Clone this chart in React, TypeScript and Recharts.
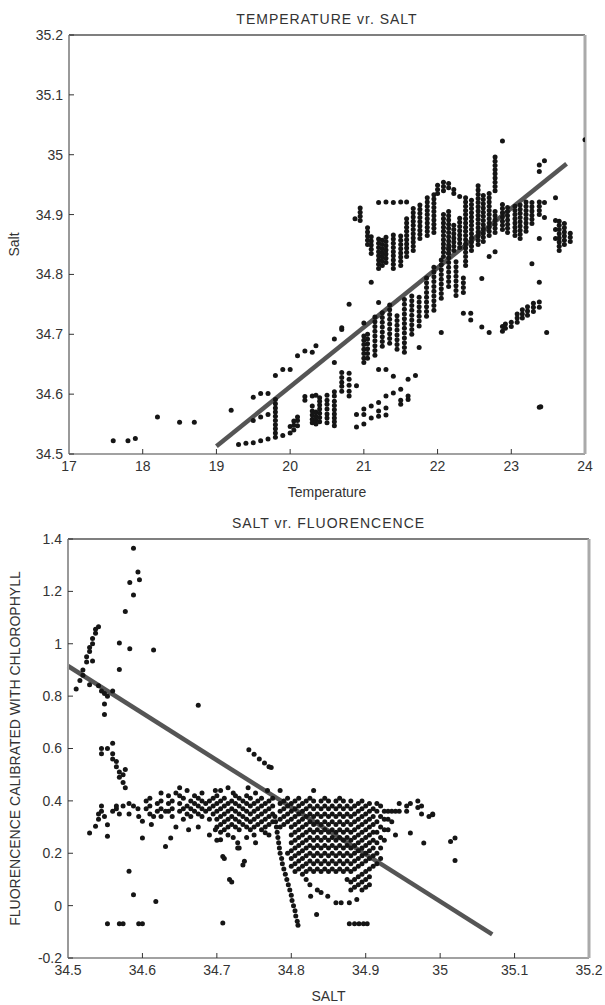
import React from 'react';
import { ScatterChart, Scatter, XAxis, YAxis, ReferenceLine, Label } from 'recharts';

// ---------- Chart 1: TEMPERATURE vr. SALT ----------
const tempTicks = [17, 18, 19, 20, 21, 22, 23, 24];
const saltTicksTop = [34.5, 34.6, 34.7, 34.8, 34.9, 35.0, 35.1, 35.2];

// [temperature, salt values observed at that temperature]
const tempSaltColumns: [number, number[]][] = [
  [17.6, [34.522]], [17.8, [34.522]], [17.9, [34.526]], [18.2, [34.562]], [18.5, [34.553]], [18.7, [34.553]],
  [19.2, [34.573]], [19.3, [34.516]], [19.4, [34.518]],
  [19.5, [34.519, 34.556, 34.595]], [19.6, [34.522, 34.562, 34.601]], [19.7, [34.525, 34.566, 34.601]],
  [19.8, [34.528, 34.535, 34.542, 34.549, 34.556, 34.563, 34.57, 34.577, 34.584, 34.591, 34.631]],
  [19.9, [34.531, 34.641]], [20.0, [34.535, 34.546, 34.641]], [20.05, [34.54, 34.548, 34.555]],
  [20.1, [34.547, 34.556, 34.562, 34.664]], [20.2, [34.596, 34.59, 34.672]],
  [20.3, [34.552, 34.558, 34.565, 34.572, 34.58, 34.597, 34.67]],
  [20.35, [34.55, 34.557, 34.563, 34.57, 34.598, 34.681]],
  [20.4, [34.554, 34.561, 34.568, 34.575, 34.582, 34.588, 34.594]],
  [20.5, [34.552, 34.56, 34.567, 34.575, 34.583, 34.59, 34.598]],
  [20.6, [34.547, 34.554, 34.56, 34.567, 34.574, 34.581, 34.588, 34.597, 34.604, 34.653, 34.692]],
  [20.7, [34.605, 34.613, 34.62, 34.628, 34.636, 34.708, 34.711]],
  [20.8, [34.597, 34.605, 34.615, 34.625, 34.635, 34.75]],
  [20.9, [34.545, 34.566, 34.614]],
  [21.0, [34.55, 34.566, 34.575, 34.653, 34.66, 34.668, 34.675, 34.683, 34.69, 34.697, 34.719]],
  [21.1, [34.56, 34.58, 34.787]], [21.2, [34.563, 34.572, 34.586, 34.641, 34.753]],
  [21.3, [34.565, 34.577, 34.597, 34.641]], [21.4, [34.63, 34.602]], [21.5, [34.583, 34.59, 34.608]],
  [21.6, [34.591, 34.597, 34.625]], [21.7, [34.631]], [23.4, [34.579]],
  // diagonal band
  [21.05, [34.66, 34.668, 34.676, 34.684, 34.692, 34.7]],
  [21.15, [34.665, 34.673, 34.681, 34.689, 34.697, 34.705, 34.713, 34.721, 34.729]],
  [21.25, [34.68, 34.688, 34.696, 34.704, 34.712, 34.72, 34.728, 34.736]],
  [21.35, [34.685, 34.693, 34.701, 34.709, 34.717, 34.725, 34.733, 34.741, 34.749]],
  [21.45, [34.675, 34.683, 34.691, 34.699, 34.707, 34.715, 34.723, 34.731]],
  [21.55, [34.67, 34.678, 34.686, 34.694, 34.702, 34.71, 34.718, 34.726, 34.734, 34.742, 34.75, 34.758]],
  [21.65, [34.7, 34.708, 34.716, 34.724, 34.732, 34.74, 34.748, 34.756, 34.764]],
  [21.75, [34.678, 34.714, 34.722, 34.73, 34.738, 34.746, 34.754, 34.762]],
  [21.85, [34.73, 34.738, 34.746, 34.754, 34.762, 34.77, 34.778, 34.786, 34.794]],
  [21.95, [34.74, 34.748, 34.756, 34.764, 34.772, 34.78, 34.788, 34.796, 34.804, 34.812]],
  [22.05, [34.703, 34.76, 34.768, 34.776, 34.784, 34.792, 34.8, 34.808, 34.816, 34.824]],
  [22.15, [34.78, 34.788, 34.796, 34.804, 34.812, 34.82, 34.828, 34.836, 34.844]],
  [22.25, [34.765, 34.773, 34.781, 34.789, 34.797, 34.805, 34.813, 34.821]],
  [22.35, [34.735, 34.77, 34.778, 34.786, 34.794]],
  [22.45, [34.735, 34.724]], [22.6, [34.793, 34.712]], [22.7, [34.703]],
  // upper cluster
  [20.88, [34.893]], [20.95, [34.89, 34.897, 34.904, 34.911]],
  [21.05, [34.85, 34.857, 34.864, 34.871, 34.878]],
  [21.1, [34.835, 34.842, 34.849, 34.856, 34.863]],
  [21.2, [34.81, 34.817, 34.824, 34.831, 34.838, 34.845, 34.852, 34.859, 34.92]],
  [21.25, [34.815, 34.822, 34.829, 34.836, 34.843, 34.85, 34.857]],
  [21.3, [34.82, 34.827, 34.834, 34.841, 34.848, 34.855, 34.862, 34.921]],
  [21.4, [34.81, 34.817, 34.824, 34.831, 34.838, 34.845, 34.852, 34.859, 34.866, 34.92]],
  [21.5, [34.815, 34.822, 34.829, 34.836, 34.843, 34.85, 34.857, 34.864, 34.921]],
  [21.58, [34.83, 34.837, 34.844, 34.851, 34.858, 34.865, 34.872, 34.879, 34.886, 34.893, 34.921]],
  [21.67, [34.84, 34.847, 34.854, 34.861, 34.868, 34.875, 34.882, 34.889, 34.896, 34.903, 34.91]],
  [21.76, [34.86, 34.867, 34.874, 34.881, 34.888, 34.895, 34.902, 34.909, 34.916]],
  [21.86, [34.865, 34.872, 34.879, 34.886, 34.893, 34.9, 34.907, 34.914, 34.921, 34.928]],
  [21.95, [34.87, 34.877, 34.884, 34.891, 34.898, 34.905, 34.912, 34.919, 34.926, 34.933]],
  [22.0, [34.935, 34.942, 34.949]],
  [22.08, [34.83, 34.837, 34.844, 34.851, 34.858, 34.865, 34.872, 34.879, 34.886, 34.893, 34.9, 34.94, 34.947, 34.954]],
  [22.15, [34.835, 34.842, 34.849, 34.856, 34.863, 34.87, 34.877, 34.884, 34.891, 34.898, 34.905, 34.945, 34.952]],
  [22.22, [34.84, 34.847, 34.854, 34.861, 34.868, 34.875, 34.882, 34.935, 34.942]],
  [22.3, [34.845, 34.852, 34.859, 34.866, 34.873, 34.88, 34.887, 34.894, 34.93]],
  [22.38, [34.815, 34.822, 34.83, 34.837, 34.844, 34.851, 34.858, 34.865, 34.872, 34.879, 34.886, 34.893, 34.9, 34.907, 34.914, 34.921, 34.928]],
  [22.46, [34.84, 34.847, 34.854, 34.861, 34.868, 34.875, 34.882, 34.889, 34.896, 34.903, 34.91, 34.917, 34.924]],
  [22.55, [34.85, 34.857, 34.864, 34.871, 34.878, 34.885, 34.892, 34.899, 34.906, 34.913, 34.92, 34.927, 34.934, 34.941, 34.948]],
  [22.62, [34.855, 34.862, 34.869, 34.876, 34.883, 34.89, 34.897, 34.904, 34.911, 34.918, 34.925, 34.932]],
  [22.7, [34.83, 34.865, 34.872, 34.879, 34.886, 34.893, 34.9, 34.907, 34.914, 34.921, 34.928, 34.935]],
  [22.78, [34.838, 34.87, 34.877, 34.884, 34.891, 34.898, 34.905, 34.94, 34.947, 34.954, 34.961, 34.968, 34.975, 34.982, 34.989, 34.996]],
  [22.88, [34.875, 34.882, 34.889, 34.896, 34.903, 34.91, 34.917, 35.023]],
  [22.95, [34.87, 34.877, 34.884, 34.891, 34.898, 34.905, 34.912]],
  [23.05, [34.865, 34.872, 34.879, 34.886, 34.893, 34.9, 34.907, 34.914]],
  [23.12, [34.86, 34.867, 34.874, 34.881, 34.888, 34.895, 34.902, 34.909, 34.916]],
  [23.2, [34.872, 34.879, 34.886, 34.893, 34.9, 34.907, 34.914, 34.921]],
  [23.28, [34.818, 34.885, 34.892, 34.899, 34.906, 34.913, 34.92]],
  [23.38, [34.787, 34.86, 34.9, 34.907, 34.914, 34.921, 34.972, 34.983]],
  [23.45, [34.895, 34.92, 34.99]], [23.6, [34.86, 34.875, 34.89, 34.928]],
  [23.65, [34.84, 34.847, 34.854, 34.861, 34.868, 34.875, 34.882, 34.889]],
  [23.72, [34.85, 34.857, 34.864, 34.871, 34.878, 34.885]],
  [23.8, [34.855, 34.862, 34.869]], [24.0, [35.025]],
  // lower-right sub-line
  [22.88, [34.705, 34.713]], [22.92, [34.71, 34.717]], [23.0, [34.713, 34.72]],
  [23.08, [34.72, 34.727, 34.734]], [23.15, [34.727, 34.734, 34.741]],
  [23.22, [34.732, 34.739, 34.746]], [23.3, [34.738, 34.745, 34.752]],
  [23.38, [34.745, 34.754, 34.578]], [23.48, [34.703]],
];
const tempSaltFit = [{ x: 19.0, y: 34.513 }, { x: 23.75, y: 34.985 }];

// ---------- Chart 2: SALT vr. FLUORENCENCE ----------
const saltTicks = [34.5, 34.6, 34.7, 34.8, 34.9, 35.0, 35.1, 35.2];
const fluorTicks = [-0.2, 0, 0.2, 0.4, 0.6, 0.8, 1.0, 1.2, 1.4];

// [salt, fluorescence values observed at that salt]
const saltFluorColumns: [number, number[]][] = [
  [34.511, [0.827]], [34.516, [0.86]], [34.52, [0.88, 0.9]], [34.525, [0.93, 0.95]],
  [34.529, [0.277, 0.97, 0.986, 0.843]], [34.533, [0.934, 1.0, 1.02]], [34.537, [0.303, 1.04, 1.055]],
  [34.541, [0.33, 0.35, 1.065, 0.84]], [34.545, [0.36, 0.38, 0.82, 0.6, 0.58]],
  [34.549, [0.81, 0.77, 0.73, 0.34]], [34.553, [0.309, 0.265, -0.069, 0.8, 0.6]],
  [34.56, [0.36, 0.58, 0.56, 0.62, 0.82]], [34.565, [0.55, 0.53, 0.37, 0.38]],
  [34.569, [-0.069, 0.51, 0.49, 1.003, 0.902, 0.35]], [34.574, [-0.069, 0.5, 0.47, 0.38]],
  [34.577, [1.123, 0.52, 0.45]], [34.582, [0.131, 0.39, 0.35]], [34.583, [1.234, 0.981]],
  [34.588, [1.365, 1.186, 0.042, 0.38]], [34.594, [1.274, 0.37]], [34.596, [1.244]],
  [34.595, [-0.069, 0.34]], [34.6, [-0.069, 0.258, 0.322]], [34.615, [0.976, 0.34]],
  [34.618, [0.016]], [34.631, [0.226, 0.36]], [34.638, [0.258]], [34.675, [0.765]],
  [34.708, [-0.066, 0.188]], [34.717, [0.1]], [34.728, [0.24, 0.22]], [34.737, [0.169]],
  [34.705, [0.252]], [34.765, [0.278]],
  [34.605, [0.37, 0.4]], [34.61, [0.35, 0.38, 0.41]], [34.62, [0.36, 0.39]],
  [34.625, [0.34, 0.37, 0.4, 0.43]], [34.635, [0.36, 0.39, 0.42]], [34.64, [0.34, 0.37, 0.4]],
  [34.65, [0.36, 0.39, 0.42, 0.45]], [34.655, [0.33, 0.37, 0.41]], [34.66, [0.35, 0.38, 0.44]],
  [34.665, [0.34, 0.37, 0.4]], [34.67, [0.36, 0.39, 0.42]], [34.675, [0.3, 0.35, 0.38, 0.41]],
  [34.68, [0.34, 0.37, 0.4, 0.43]], [34.685, [0.36, 0.39]], [34.69, [0.27, 0.33, 0.37, 0.4]],
  [34.695, [0.35, 0.38, 0.41]],
  [34.612, [0.31]], [34.645, [0.3, 0.43]], [34.662, [0.29]], [34.698, [0.44, 0.29]],
  [34.722, [0.43, 0.26]], [34.752, [0.43, 0.24]], [34.768, [0.44]], [34.742, [0.45]],
  [34.7, [0.25, 0.3, 0.33, 0.36, 0.39, 0.42]], [34.705, [0.28, 0.31, 0.34, 0.37, 0.4, 0.44]],
  [34.71, [0.18, 0.29, 0.32, 0.35, 0.38, 0.41]], [34.715, [0.27, 0.3, 0.33, 0.36, 0.39, 0.45]],
  [34.72, [0.09, 0.31, 0.34, 0.37, 0.4]], [34.725, [0.3, 0.33, 0.36, 0.39, 0.42]],
  [34.73, [0.22, 0.29, 0.32, 0.35, 0.38, 0.41]], [34.735, [0.155, 0.31, 0.34, 0.37, 0.4]],
  [34.74, [0.26, 0.3, 0.33, 0.36, 0.39, 0.42]], [34.745, [0.29, 0.32, 0.35, 0.38, 0.41]],
  [34.75, [0.27, 0.3, 0.33, 0.36, 0.39]], [34.755, [0.31, 0.34, 0.37, 0.4]],
  [34.76, [0.29, 0.32, 0.35, 0.38, 0.41]], [34.765, [0.3, 0.33, 0.36, 0.39]],
  [34.77, [0.27, 0.31, 0.34, 0.37, 0.4]], [34.775, [0.32, 0.35, 0.38, 0.41]],
  [34.785, [0.3, 0.33, 0.36, 0.39, 0.44]], [34.79, [0.31, 0.34, 0.37, 0.4]],
  [34.795, [0.2, 0.32, 0.35, 0.38, 0.41]],
  [34.8, [0.15, 0.18, 0.21, 0.24, 0.27, 0.3, 0.33, 0.36, 0.39]],
  [34.805, [0.13, 0.16, 0.19, 0.22, 0.25, 0.28, 0.31, 0.34, 0.37, 0.4]],
  [34.81, [0.14, 0.17, 0.2, 0.23, 0.26, 0.29, 0.32, 0.35, 0.38, 0.41]],
  [34.815, [0.12, 0.15, 0.18, 0.21, 0.24, 0.27, 0.3, 0.33, 0.36, 0.39]],
  [34.82, [0.1, 0.13, 0.16, 0.19, 0.22, 0.25, 0.28, 0.31, 0.34, 0.37, 0.4]],
  [34.825, [0.08, 0.14, 0.17, 0.2, 0.23, 0.26, 0.29, 0.32, 0.35, 0.38, 0.41]],
  [34.83, [0.13, 0.16, 0.19, 0.22, 0.25, 0.28, 0.31, 0.34, 0.37, 0.4, 0.44]],
  [34.835, [0.06, 0.14, 0.17, 0.2, 0.23, 0.26, 0.29, 0.32, 0.35, 0.38]],
  [34.84, [0.05, 0.13, 0.16, 0.19, 0.22, 0.25, 0.28, 0.31, 0.34, 0.37, 0.4]],
  [34.845, [0.14, 0.17, 0.2, 0.23, 0.26, 0.29, 0.32, 0.35, 0.38, 0.41]],
  [34.85, [0.13, 0.16, 0.19, 0.22, 0.25, 0.28, 0.31, 0.34, 0.37, 0.4]],
  [34.855, [0.14, 0.17, 0.2, 0.23, 0.26, 0.29, 0.32, 0.35, 0.38]],
  [34.86, [0.13, 0.16, 0.19, 0.22, 0.25, 0.28, 0.31, 0.34, 0.37, 0.4]],
  [34.865, [0.14, 0.17, 0.2, 0.23, 0.26, 0.29, 0.32, 0.35, 0.38, 0.41]],
  [34.87, [0.13, 0.16, 0.19, 0.22, 0.25, 0.28, 0.31, 0.34, 0.37, 0.4]],
  [34.875, [0.1, 0.14, 0.17, 0.2, 0.23, 0.26, 0.29, 0.32, 0.35, 0.38]],
  [34.88, [0.06, 0.09, 0.13, 0.16, 0.19, 0.22, 0.25, 0.28, 0.31, 0.34, 0.37, 0.4]],
  [34.885, [0.07, 0.1, 0.14, 0.17, 0.2, 0.23, 0.26, 0.29, 0.32, 0.35, 0.38]],
  [34.89, [0.08, 0.11, 0.15, 0.18, 0.21, 0.24, 0.27, 0.3, 0.33, 0.36, 0.39]],
  [34.895, [0.06, 0.09, 0.12, 0.16, 0.19, 0.22, 0.25, 0.28, 0.31, 0.34, 0.37, 0.4]],
  [34.9, [0.07, 0.1, 0.13, 0.17, 0.2, 0.23, 0.26, 0.29, 0.32, 0.35, 0.38]],
  [34.905, [0.08, 0.11, 0.14, 0.18, 0.21, 0.24, 0.27, 0.3, 0.33, 0.36, 0.39]],
  [34.91, [0.15, 0.19, 0.22, 0.25, 0.28, 0.31, 0.34, 0.37]],
  [34.915, [0.16, 0.2, 0.24, 0.28, 0.32, 0.36, 0.39]], [34.92, [0.18, 0.22, 0.26, 0.3, 0.34, 0.38]],
  [34.925, [0.25, 0.29, 0.33, 0.36]], [34.93, [0.29, 0.33, 0.36]], [34.935, [0.32, 0.36]],
  [34.94, [0.27, 0.36]], [34.945, [0.36, 0.39]], [34.955, [0.36, 0.38]], [34.96, [0.277, 0.39]],
  [34.97, [0.4, 0.375]], [34.975, [0.38, 0.35]], [34.978, [0.239]], [34.985, [0.34]],
  [34.99, [0.35, 0.347]], [35.014, [0.245]], [35.02, [0.258, 0.172]],
  [34.826, [0.036]], [34.834, [-0.034]], [34.849, [0.036]], [34.86, [0.011]], [34.867, [0.011]],
  [34.878, [0.011, -0.069]], [34.888, [0.023]], [34.885, [-0.069]], [34.891, [-0.069]],
  [34.897, [-0.069]], [34.902, [-0.069]],
  // near-vertical streak
  [34.778, [0.34]], [34.779, [0.32]], [34.78, [0.3]], [34.781, [0.28]], [34.782, [0.26]],
  [34.783, [0.24]], [34.784, [0.22]], [34.785, [0.2]], [34.787, [0.18]], [34.788, [0.16]],
  [34.79, [0.14]], [34.792, [0.12]], [34.794, [0.1]], [34.796, [0.08]], [34.798, [0.06]],
  [34.8, [0.04]], [34.801, [0.02]], [34.803, [0.0]], [34.805, [-0.02]], [34.806, [-0.04]],
  [34.808, [-0.06]], [34.809, [-0.075]],
  // short chains
  [34.743, [0.595]], [34.75, [0.578]], [34.757, [0.56]], [34.764, [0.545]], [34.77, [0.53]], [34.773, [0.527]],
];
const saltFluorFit = [{ x: 34.5, y: 0.915 }, { x: 35.07, y: -0.11 }];

const tempSaltPoints = tempSaltColumns.flatMap(([t, ss]) => ss.map((s) => ({ x: t, y: s })));
const saltFluorPoints = saltFluorColumns.flatMap(([s, fs]) => fs.map((f) => ({ x: s, y: f })));

const FONT = '"Liberation Sans", Arial, sans-serif';
const TEXT = '#333';
const tickStyle = { fill: TEXT, fontSize: 14, fontFamily: FONT };
const fmt = (v: number) => String(Math.round(v * 10) / 10);

const Dot = (props: any) => <circle cx={props.cx} cy={props.cy} r={2.5} fill="#151515" />;

function Plot(props: {
  top: number;
  points: { x: number; y: number }[];
  fit: { x: number; y: number }[];
  xDomain: [number, number];
  yDomain: [number, number];
  xTicks: number[];
  yTicks: number[];
  title: string;
  xLabel: string;
  yLabel: string;
  yAxisWidth: number;
  rightMargin: number;
  yLabelOffset: number;
}) {
  return (
    <div style={{ position: 'absolute', left: 0, top: props.top }}>
      <ScatterChart
        width={605}
        height={500}
        margin={{ top: 33, right: props.rightMargin, bottom: 0, left: 5 }}
      >
        <XAxis
          xAxisId={0}
          type="number"
          dataKey="x"
          domain={props.xDomain}
          ticks={props.xTicks}
          interval={0}
          allowDataOverflow
          height={47}
          tickFormatter={fmt}
          tick={tickStyle}
          tickSize={-5}
          tickMargin={12}
          tickLine={{ stroke: '#333' }}
          axisLine={{ stroke: '#444', strokeWidth: 1.2 }}
        >
          <Label value={props.xLabel} position="insideBottom" offset={4} style={{ fill: TEXT, fontSize: 14, fontFamily: FONT }} />
        </XAxis>
        <XAxis
          xAxisId="top"
          orientation="top"
          type="number"
          domain={props.xDomain}
          ticks={props.xTicks}
          interval={0}
          allowDataOverflow
          height={1}
          tick={false}
          tickSize={-5}
          tickLine={{ stroke: '#333' }}
          axisLine={{ stroke: '#555', strokeWidth: 1.4 }}
        >
          <Label value={props.title} position="top" offset={10} style={{ fill: TEXT, fontSize: 14, fontFamily: FONT, letterSpacing: 1 }} />
        </XAxis>
        <YAxis
          yAxisId={0}
          type="number"
          dataKey="y"
          domain={props.yDomain}
          ticks={props.yTicks}
          interval={0}
          allowDataOverflow
          width={props.yAxisWidth}
          tickFormatter={fmt}
          tick={tickStyle}
          tickSize={-5}
          tickMargin={11}
          tickLine={{ stroke: '#333' }}
          axisLine={{ stroke: '#999', strokeWidth: 2 }}
        >
          <Label value={props.yLabel} angle={-90} position="insideLeft" offset={props.yLabelOffset} style={{ fill: TEXT, fontSize: 14, fontFamily: FONT, textAnchor: 'middle' }} />
        </YAxis>
        <YAxis
          yAxisId="right"
          orientation="right"
          type="number"
          domain={props.yDomain}
          ticks={props.yTicks}
          interval={0}
          allowDataOverflow
          width={1}
          tick={false}
          tickSize={-5}
          tickLine={{ stroke: '#333' }}
          axisLine={{ stroke: '#aaa', strokeWidth: 3 }}
        />
        <Scatter data={props.points} shape={Dot} isAnimationActive={false} />
        <ReferenceLine segment={props.fit} stroke="#555" strokeWidth={4.5} ifOverflow="visible" />
      </ScatterChart>
    </div>
  );
}

export default function App() {
  return (
    <div style={{ position: 'absolute', left: 0, top: 0, width: 605, height: 1005, background: '#fff' }}>
      <Plot
        top={1}
        points={tempSaltPoints}
        fit={tempSaltFit}
        xDomain={[17, 24]}
        yDomain={[34.5, 35.2]}
        xTicks={tempTicks}
        yTicks={saltTicksTop}
        title="TEMPERATURE  vr.  SALT"
        xLabel="Temperature"
        yLabel="Salt"
        yAxisWidth={64}
        rightMargin={19}
        yLabelOffset={9}
      />
      <Plot
        top={505}
        points={saltFluorPoints}
        fit={saltFluorFit}
        xDomain={[34.5, 35.2]}
        yDomain={[-0.2, 1.4]}
        xTicks={saltTicks}
        yTicks={fluorTicks}
        title="SALT  vr.  FLUORENCENCE"
        xLabel="SALT"
        yLabel="FLUORENCENCE CALIBRATED WITH CHLOROPHYLL"
        yAxisWidth={63}
        rightMargin={15}
        yLabelOffset={10}
      />
    </div>
  );
}
